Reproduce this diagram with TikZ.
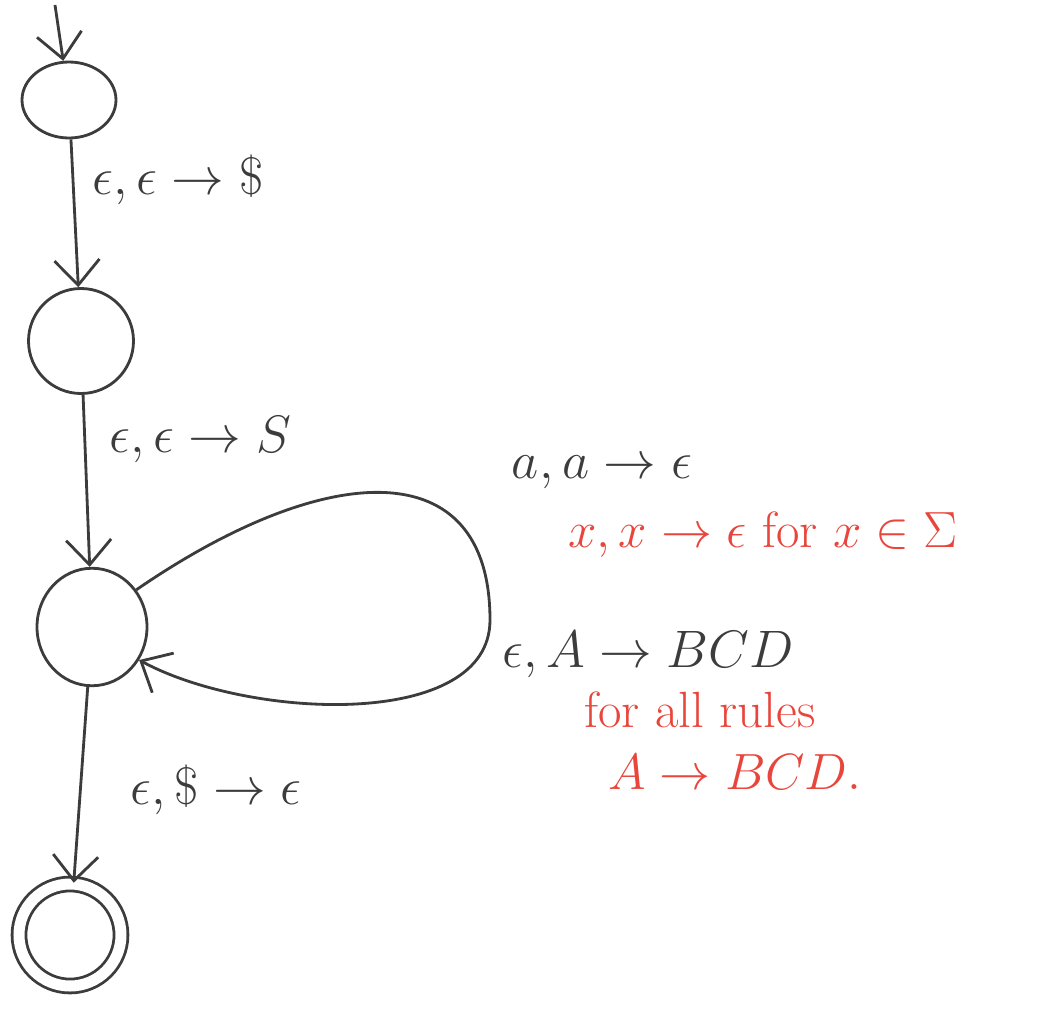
\RequirePackage{fix-cm}
\documentclass[tikz,border=0pt]{standalone}
\usepackage{amsmath}
\usepackage{amssymb}
\usepackage{tikz}
\usetikzlibrary{arrows.meta,positioning,shapes.geometric}
\definecolor{pdaInk}{HTML}{3C3C3C}
\definecolor{pdaRed}{HTML}{E8463C}

\begin{document}
\begin{tikzpicture}[
    state/.style={draw=pdaInk, line width=1.6pt, ellipse, inner sep=0pt},
    arr/.style={-{Straight Barb[length=5mm, width=9mm]}, draw=pdaInk, line width=1.6pt},
    lbl/.style={font=\fontsize{30}{34}\selectfont, text=pdaInk, inner sep=0pt},
    note/.style={font=\fontsize{29}{33}\selectfont, text=pdaRed, inner sep=0pt},
]
\useasboundingbox (0,0) rectangle (21.04,-20.26);

% ===== STATES =====
\node[state, minimum width=1.88cm, minimum height=1.52cm] (q0) at (1.38, -2.0) {};
\node[state, minimum width=2.1cm, minimum height=2.1cm] (q1) at (1.62, -6.82) {};
\node[state, minimum width=2.2cm, minimum height=2.35cm] (q2) at (1.84, -12.54) {};
\node[state, double, double distance=0.22cm, minimum size=2.04cm] (q3) at (1.40, -18.7) {};

% Start arrow
\coordinate (start) at (1.10, -0.1);
\draw[arr] (start) -- (q0);

% ===== TRANSITIONS =====
\draw[arr] (q0) -- (q1);
\node[lbl] (push) at (3.56, -3.6) {$\epsilon,\epsilon\to\$$};

\draw[arr] (q1) -- (q2);
\node[lbl] (start-sym) at (4.0, -8.8) {$\epsilon,\epsilon\to S$};

% Self loop on the middle state
\coordinate (loopR) at (9.8, -12.4);
\draw[arr] (q2.40) .. controls (6.5, -9.2) and (9.8, -9.0) .. (loopR)
    .. controls (9.8, -14.6) and (5.0, -14.4) .. (q2.-35);
\node[lbl] (match) at (12.04, -9.45) {$a,a\to\epsilon$};
\node[note] (match-note) at (15.26, -10.7) {$x,x\to\epsilon$ for $x\in\Sigma$};
\node[lbl] (expand) at (12.96, -13.1) {$\epsilon,A\to BCD$};
\node[note] (expand-note) at (14.0, -14.2) {for all rules};
\node[note] (expand-rule) at (14.7, -15.45) {$A\to BCD.$};

\draw[arr] (q2) -- (q3);
\node[lbl] (pop) at (4.32, -15.8) {$\epsilon,\$\to\epsilon$};

\end{tikzpicture}
\end{document}
